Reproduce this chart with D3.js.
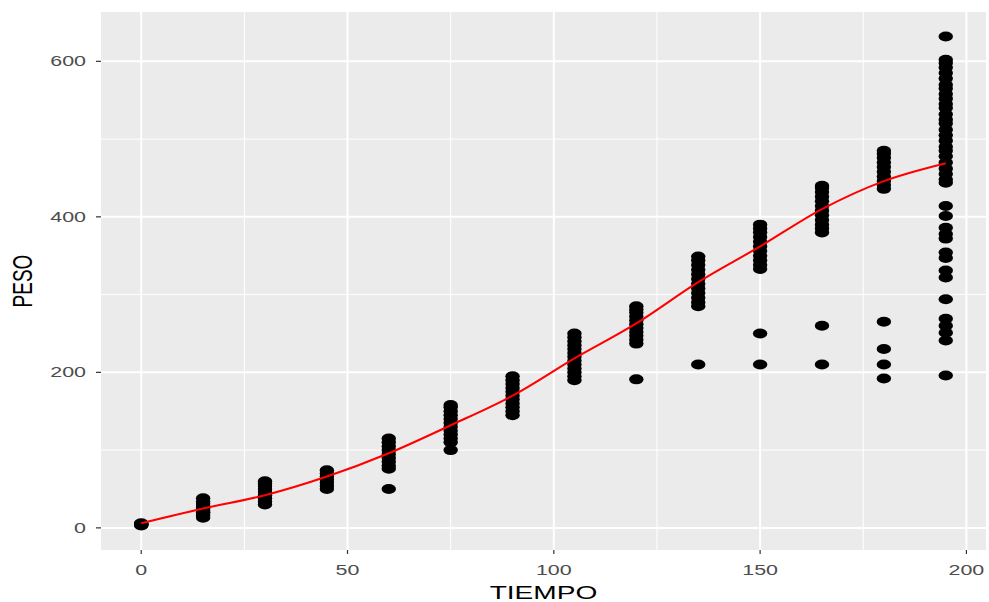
<!DOCTYPE html>
<html>
<head>
<meta charset="utf-8">
<script src="https://cdn.jsdelivr.net/npm/d3@7"></script>
<style>
  body { margin: 0; background: #fff; }
  text { font-family: "Liberation Sans", Arial, sans-serif; }
</style>
</head>
<body>
<div id="chart"></div>
<script>
// datos
var tiempos = [0, 15, 30, 45, 60, 75, 90, 105, 120, 135, 150, 165, 180, 195];

var p0 = [3, 4, 5, 6, 4, 5];
var p15 = [13, 16, 19, 22, 25, 28, 31, 34, 38, 20, 26];
var p30 = [30, 34, 38, 42, 46, 50, 54, 57, 60];
var p45 = [50, 54, 58, 62, 66, 70, 74];
var p60 = [50, 76, 80, 85, 90, 95, 100, 105, 110, 115];
var p75 = [100, 110, 115, 120, 125, 130, 135, 140, 145, 150, 155, 158];
var p90 = [145, 150, 155, 160, 165, 170, 175, 180, 185, 190, 195];
var p105 = [190, 195, 200, 205, 210, 215, 220, 225, 230, 235, 240, 245, 250];
var p120 = [191, 237, 242, 247, 252, 257, 262, 267, 272, 277, 281, 285];
var p135 = [210, 285, 290, 296, 302, 308, 314, 320, 326, 332, 338, 344, 349];
var p150 = [210, 250, 333, 338, 344, 350, 356, 362, 368, 374, 380, 385, 390];
var p165 = [210, 260, 380, 385, 390, 396, 402, 408, 414, 420, 426, 432, 437, 440];
var p180 = [192, 210, 230, 265, 436, 441, 446, 452, 458, 464, 470, 476, 481, 485];
var p195 = [196, 241, 251, 260, 269, 294, 322, 331, 347, 354, 372, 378, 386, 401, 414,
            444, 448, 455, 462, 470, 478, 485, 490, 498, 505, 512, 520, 525, 532, 540,
            545, 552, 558, 565, 570, 578, 585, 592, 598, 602, 632];

var pesos = [p0, p15, p30, p45, p60, p75, p90, p105, p120, p135, p150, p165, p180, p195];

var ajuste = [6, 25, 42, 66, 96, 132, 170, 218, 263, 316, 362, 410, 446, 469];

var xTicks = [0, 50, 100, 150, 200];
var xMinor = [25, 75, 125, 175];
var yTicks = [0, 200, 400, 600];
var yMinor = [100, 300, 500];

var WIDTH = 989, HEIGHT = 602;
var panel = { left: 101, right: 986, top: 12, bottom: 550 };
var STRETCH = 1.48;

var puntos = [];
tiempos.forEach(function (t, i) {
    pesos[i].forEach(function (p) { puntos.push({ t: t, p: p }); });
});

var xExt = d3.extent(tiempos), yExt = d3.extent(puntos, function (d) { return d.p; });
var xPad = (xExt[1] - xExt[0]) * 0.05, yPad = (yExt[1] - yExt[0]) * 0.05;

var x = d3.scaleLinear().domain([xExt[0] - xPad, xExt[1] + xPad]).range([panel.left, panel.right]);
var y = d3.scaleLinear().domain([yExt[0] - yPad, yExt[1] + yPad]).range([panel.bottom, panel.top]);

var svg = d3.select("#chart").append("svg")
    .attr("width", WIDTH)
    .attr("height", HEIGHT);

svg.append("rect")
    .attr("x", panel.left).attr("y", panel.top)
    .attr("width", panel.right - panel.left)
    .attr("height", panel.bottom - panel.top)
    .attr("fill", "#EBEBEB");

var grid = svg.append("g").attr("id", "grid");

// rejilla menor
grid.selectAll("line.xmin").data(xMinor).enter().append("line")
    .attr("x1", function (d) { return x(d); }).attr("x2", function (d) { return x(d); })
    .attr("y1", panel.top).attr("y2", panel.bottom)
    .attr("stroke", "#fff").attr("stroke-width", 1);
grid.selectAll("line.ymin").data(yMinor).enter().append("line")
    .attr("y1", function (d) { return y(d); }).attr("y2", function (d) { return y(d); })
    .attr("x1", panel.left).attr("x2", panel.right)
    .attr("stroke", "#fff").attr("stroke-width", 1);

// rejilla mayor
grid.selectAll("line.xmaj").data(xTicks).enter().append("line")
    .attr("x1", function (d) { return x(d); }).attr("x2", function (d) { return x(d); })
    .attr("y1", panel.top).attr("y2", panel.bottom)
    .attr("stroke", "#fff").attr("stroke-width", 2);
grid.selectAll("line.ymaj").data(yTicks).enter().append("line")
    .attr("y1", function (d) { return y(d); }).attr("y2", function (d) { return y(d); })
    .attr("x1", panel.left).attr("x2", panel.right)
    .attr("stroke", "#fff").attr("stroke-width", 2);

// puntos
svg.append("g").attr("id", "puntos")
    .selectAll("ellipse")
    .data(puntos).enter()
    .append("ellipse")
    .attr("cx", function (d) { return x(d.t); })
    .attr("cy", function (d) { return y(d.p); })
    .attr("rx", 7.2)
    .attr("ry", 5)
    .attr("fill", "#000");

// linea suavizada
var linea = d3.line()
    .x(function (d, i) { return x(tiempos[i]); })
    .y(function (d) { return y(d); })
    .curve(d3.curveCatmullRom);

svg.append("path")
    .datum(ajuste)
    .attr("d", linea)
    .attr("fill", "none")
    .attr("stroke", "#FF0000")
    .attr("stroke-width", 2);

// ejes
var axisX = svg.append("g");
xTicks.forEach(function (t) {
    axisX.append("line")
        .attr("x1", x(t)).attr("x2", x(t))
        .attr("y1", panel.bottom).attr("y2", panel.bottom + 4)
        .attr("stroke", "#333").attr("stroke-width", 1.2);
    axisX.append("text")
        .attr("transform", "translate(" + x(t) + "," + 575 + ") scale(" + STRETCH + ",1)")
        .attr("text-anchor", "middle")
        .attr("font-size", 14.5)
        .attr("fill", "#4D4D4D")
        .text(t);
});

var axisY = svg.append("g");
yTicks.forEach(function (t) {
    axisY.append("line")
        .attr("x1", panel.left - 5).attr("x2", panel.left)
        .attr("y1", y(t)).attr("y2", y(t))
        .attr("stroke", "#333").attr("stroke-width", 1.2);
    axisY.append("text")
        .attr("transform", "translate(" + 86 + "," + (y(t) + 5) + ") scale(" + STRETCH + ",1)")
        .attr("text-anchor", "end")
        .attr("font-size", 14.5)
        .attr("fill", "#4D4D4D")
        .text(t);
});

svg.append("text")
    .attr("transform", "translate(" + (panel.left + panel.right) / 2 + "," + 599 + ") scale(" + STRETCH + ",1)")
    .attr("text-anchor", "middle")
    .attr("font-size", 19)
    .attr("fill", "#000")
    .text("TIEMPO");

svg.append("text")
    .attr("transform", "translate(" + 32 + "," + (panel.top + panel.bottom) / 2 + ") scale(" + STRETCH + ",1) rotate(-90)")
    .attr("text-anchor", "middle")
    .attr("font-size", 19)
    .attr("fill", "#000")
    .text("PESO");
</script>
</body>
</html>
